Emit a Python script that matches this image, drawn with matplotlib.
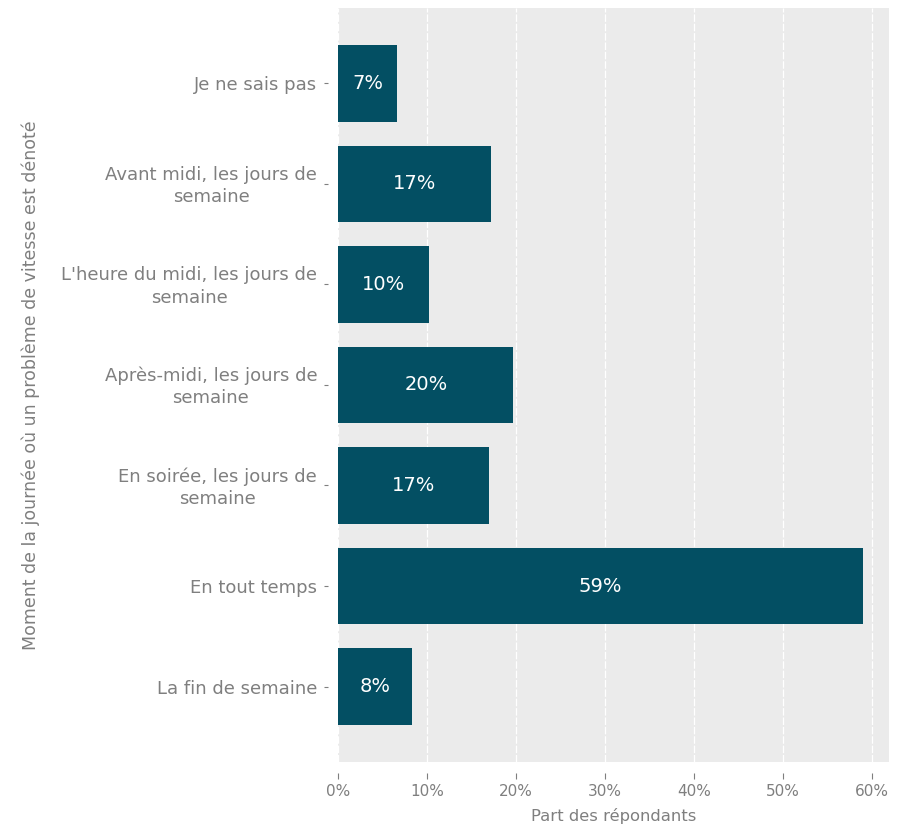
import matplotlib.pyplot as plt
import matplotlib.transforms as mtransforms
from matplotlib.ticker import FuncFormatter

categories = [
    "Je ne sais pas",
    "Avant midi, les jours de\nsemaine",
    "L'heure du midi, les jours de\nsemaine",
    "Après-midi, les jours de\nsemaine",
    "En soirée, les jours de\nsemaine",
    "En tout temps",
    "La fin de semaine",
]
values = [6.6, 17.2, 10.2, 19.7, 16.9, 59.0, 8.3]
labels = ["7%", "17%", "10%", "20%", "17%", "59%", "8%"]
xticks = [0, 10, 20, 30, 40, 50, 60]

plt.rcParams['font.family'] = ['DejaVu Sans']
grey = "#7f7f7f"

fig = plt.figure(figsize=(9.09, 8.25), dpi=100)
ax = fig.add_axes([0.372, 0.0764, 0.606, 0.914])
ax.set_facecolor("#ebebeb")

y = range(len(categories))
ax.barh(y, values, height=0.76, color="#034f63", zorder=3)
for yi, v, lab in zip(y, values, labels):
    ax.text(v / 2, yi, lab, ha="center", va="center", color="white", fontsize=14, zorder=4)

ax.set_ylim(len(categories) - 0.25, -0.75)
ax.set_xlim(0, 61.9)
ax.set_xticks(xticks)
ax.xaxis.set_major_formatter(FuncFormatter(lambda v, p: f"{v:.0f}%"))
ax.set_yticks(list(y))
ax.set_yticklabels([])

# category labels: right aligned block, lines centred inside it
lab_tr = mtransforms.offset_copy(ax.get_yaxis_transform(), fig=fig, x=-21, y=-2, units="dots")
for yi, cat in zip(y, categories):
    ax.text(0, yi, cat, transform=lab_tr, ha="right", va="center", multialignment="center",
            linespacing=1.3, color=grey, fontsize=13)

ax.grid(axis="x", color="white", linewidth=0.9, linestyle=(0, (6, 1.5)), zorder=0)
ax.grid(axis="y", visible=False)

for s in ax.spines.values():
    s.set_visible(False)
ax.spines["left"].set_position(("outward", 7))
ax.spines["bottom"].set_position(("outward", 8))
ax.tick_params(axis="both", colors=grey, labelcolor=grey, width=0.8)
ax.tick_params(axis="y", length=3)
ax.tick_params(axis="x", length=4, pad=4, labelsize=11)

ax.set_xlabel("Part des répondants", color=grey, fontsize=11.8, labelpad=6)
ax.set_ylabel("Moment de la journée où un problème de vitesse est dénoté", color=grey, fontsize=12.5)
ax.yaxis.set_label_coords(-0.541, 0.5)

plt.savefig("out.png", dpi=100)
